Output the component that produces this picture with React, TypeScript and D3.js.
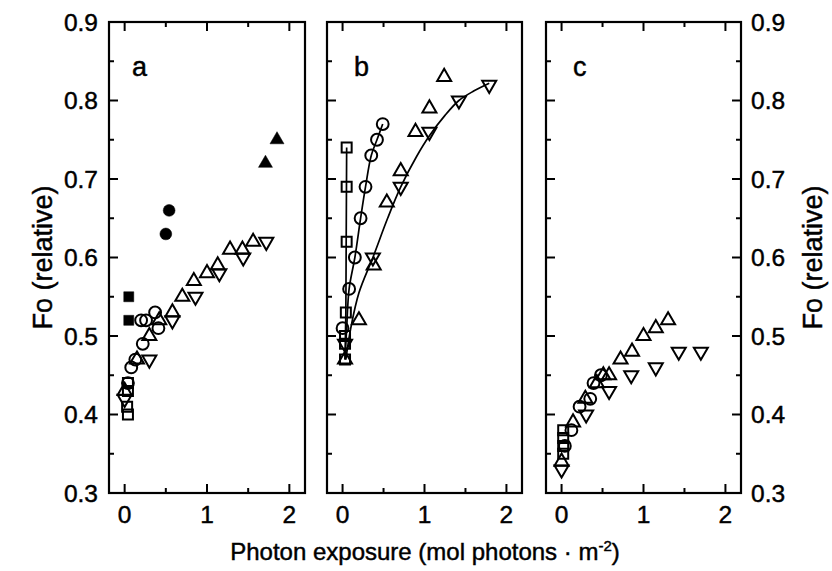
import React from "react";
import * as d3 from "d3";

type Pt = [number, number];

// ---------- data (x = photon exposure, y = Fo relative) ----------
// Panel a
const aSquareOpen: Pt[] = [[0.04, 0.44], [0.04, 0.43], [0.03, 0.41], [0.04, 0.40]];
const aSquareFilled: Pt[] = [[0.05, 0.55], [0.05, 0.52]];
const aCircleOpen: Pt[] = [[0.04, 0.44], [0.08, 0.46], [0.13, 0.47], [0.22, 0.49], [0.2, 0.52], [0.26, 0.52], [0.37, 0.53], [0.41, 0.51]];
const aCircleFilled: Pt[] = [[0.50, 0.63], [0.54, 0.66]];
const aTriUp: Pt[] = [[0.0, 0.43], [0.15, 0.47], [0.3, 0.50], [0.42, 0.52], [0.58, 0.53], [0.70, 0.55], [0.84, 0.57], [1.0, 0.58], [1.13, 0.59], [1.28, 0.61], [1.43, 0.61], [1.56, 0.62]];
const aTriDown: Pt[] = [[0.0, 0.42], [0.3, 0.47], [0.58, 0.52], [0.86, 0.55], [1.15, 0.58], [1.44, 0.60], [1.72, 0.62]];
const aTriUpFilled: Pt[] = [[1.71, 0.72], [1.85, 0.75]];

// Panel b
const bSquare: Pt[] = [[0.03, 0.47], [0.03, 0.49], [0.03, 0.50], [0.04, 0.53], [0.05, 0.62], [0.05, 0.69], [0.05, 0.74]];
const bCircle: Pt[] = [[0.0, 0.51], [0.08, 0.56], [0.15, 0.60], [0.22, 0.65], [0.28, 0.69], [0.35, 0.73], [0.42, 0.75], [0.49, 0.77]];
const bTriUp: Pt[] = [[0.03, 0.47], [0.2, 0.52], [0.38, 0.59], [0.54, 0.67], [0.71, 0.71], [0.89, 0.76], [1.06, 0.79], [1.24, 0.83]];
const bTriDown: Pt[] = [[0.03, 0.49], [0.37, 0.60], [0.71, 0.69], [1.06, 0.76], [1.42, 0.80], [1.79, 0.82]];
// fitted curves in panel b
const bSquareFit: Pt[] = [[0.03, 0.47], [0.04, 0.53], [0.05, 0.74]];
const bCircleFit: Pt[] = [[0.03, 0.47], [0.05, 0.51], [0.08, 0.56], [0.15, 0.60], [0.22, 0.65], [0.28, 0.69], [0.35, 0.73], [0.42, 0.75], [0.49, 0.77]];
const bTriFit: Pt[] = [[0.04, 0.47], [0.1, 0.51], [0.2, 0.555], [0.37, 0.60], [0.55, 0.65], [0.71, 0.69], [0.9, 0.728], [1.06, 0.755], [1.25, 0.781], [1.42, 0.80], [1.6, 0.812], [1.79, 0.822]];

// Panel c
const cSquare: Pt[] = [[0.02, 0.38], [0.02, 0.37], [0.02, 0.36], [0.02, 0.35]];
const cCircle: Pt[] = [[0.04, 0.36], [0.12, 0.38], [0.22, 0.41], [0.35, 0.42], [0.39, 0.44], [0.48, 0.45]];
const cTriUp: Pt[] = [[0.0, 0.34], [0.14, 0.39], [0.29, 0.42], [0.43, 0.44], [0.51, 0.45], [0.58, 0.45], [0.72, 0.47], [0.86, 0.48], [1.0, 0.50], [1.15, 0.51], [1.3, 0.52]];
const cTriDown: Pt[] = [[0.0, 0.33], [0.3, 0.40], [0.58, 0.43], [0.85, 0.45], [1.15, 0.46], [1.43, 0.48], [1.7, 0.48]];

const xMajor = [0, 1, 2];
const xMinor = [0.5, 1.5];
const yMajor = [0.3, 0.4, 0.5, 0.6, 0.7, 0.8, 0.9];
const yMinor = [0.35, 0.45, 0.55, 0.65, 0.75, 0.85];
const panelLetters = ["a", "b", "c"];

// ---------- layout ----------
const W = 832, H = 571;
const TOP = 22, BOTTOM = 493;
const PANEL_X: [number, number][] = [[109, 305], [327, 522], [546, 741]];
const X_DOMAIN: [number, number] = [-0.19, 2.19];
const Y_DOMAIN: [number, number] = [0.3, 0.9];
const FONT = "'Liberation Sans', Arial, Helvetica, sans-serif";
const MAJ = 9, MIN = 5;
const TXT = { fontFamily: FONT, fill: "#000", stroke: "#000", strokeWidth: 0.45 } as const;

const y = d3.scaleLinear().domain(Y_DOMAIN).range([BOTTOM, TOP]);

type Kind = "sq" | "sqF" | "ci" | "ciF" | "up" | "upF" | "dn";
const sym = (k: Kind) => {
  if (k === "sq" || k === "sqF") return d3.symbol().type(d3.symbolSquare).size(100)();
  if (k === "ci" || k === "ciF") return d3.symbol().type(d3.symbolCircle).size(110)();
  return d3.symbol().type(d3.symbolTriangle).size(85)();
};

function Markers({ data, kind, x }: { data: Pt[]; kind: Kind; x: d3.ScaleLinear<number, number> }) {
  const filled = kind.endsWith("F");
  const d = sym(kind) || "";
  return (
    <g>
      {data.map((p, i) => (
        <path
          key={i}
          d={d}
          transform={`translate(${x(p[0])},${y(p[1])})${kind === "dn" ? " rotate(180)" : ""}`}
          fill={filled ? "#000" : "none"}
          stroke="#000"
          strokeWidth={filled ? 0.5 : 2}
        />
      ))}
    </g>
  );
}

function Panel({ idx }: { idx: number }) {
  const [x0, x1] = PANEL_X[idx];
  const x = d3.scaleLinear().domain(X_DOMAIN).range([x0, x1]);
  const ticksRight = idx === 2;
  const line = d3.line<Pt>().x((p) => x(p[0])).y((p) => y(p[1]));
  const smooth = d3.line<Pt>().x((p) => x(p[0])).y((p) => y(p[1])).curve(d3.curveCatmullRom.alpha(0.5));
  const tickEls: React.ReactElement[] = [];
  const sw = 2;
  xMajor.forEach((v, i) => {
    tickEls.push(<line key={"xb" + i} x1={x(v)} x2={x(v)} y1={BOTTOM} y2={BOTTOM - MAJ} stroke="#000" strokeWidth={sw} />);
    tickEls.push(<line key={"xt" + i} x1={x(v)} x2={x(v)} y1={TOP} y2={TOP + MAJ} stroke="#000" strokeWidth={sw} />);
  });
  xMinor.forEach((v, i) => {
    tickEls.push(<line key={"xbm" + i} x1={x(v)} x2={x(v)} y1={BOTTOM} y2={BOTTOM - MIN} stroke="#000" strokeWidth={sw} />);
    tickEls.push(<line key={"xtm" + i} x1={x(v)} x2={x(v)} y1={TOP} y2={TOP + MIN} stroke="#000" strokeWidth={sw} />);
  });
  yMajor.forEach((v, i) => tickEls.push(<line key={"yl" + i} x1={x0} x2={x0 + MAJ} y1={y(v)} y2={y(v)} stroke="#000" strokeWidth={sw} />));
  yMinor.forEach((v, i) => tickEls.push(<line key={"ylm" + i} x1={x0} x2={x0 + MIN} y1={y(v)} y2={y(v)} stroke="#000" strokeWidth={sw} />));
  if (ticksRight) {
    yMajor.forEach((v, i) => tickEls.push(<line key={"yr" + i} x1={x1} x2={x1 - MAJ} y1={y(v)} y2={y(v)} stroke="#000" strokeWidth={sw} />));
    yMinor.forEach((v, i) => tickEls.push(<line key={"yrm" + i} x1={x1} x2={x1 - MIN} y1={y(v)} y2={y(v)} stroke="#000" strokeWidth={sw} />));
  }
  return (
    <g>
      <rect x={x0} y={TOP} width={x1 - x0} height={BOTTOM - TOP} fill="none" stroke="#000" strokeWidth={2.2} />
      {tickEls}
      {xMajor.map((v) => (
        <text key={v} x={x(v)} y={523} textAnchor="middle" fontSize={24.5} {...TXT}>{v}</text>
      ))}
      <text x={x0 + (idx === 0 ? 23 : 27)} y={76} fontSize={27} {...TXT}>{panelLetters[idx]}</text>
      {idx === 0 && (
        <g>
          <Markers data={aSquareOpen} kind="sq" x={x} />
          <Markers data={aSquareFilled} kind="sqF" x={x} />
          <Markers data={aCircleOpen} kind="ci" x={x} />
          <Markers data={aCircleFilled} kind="ciF" x={x} />
          <Markers data={aTriUp} kind="up" x={x} />
          <Markers data={aTriDown} kind="dn" x={x} />
          <Markers data={aTriUpFilled} kind="upF" x={x} />
        </g>
      )}
      {idx === 1 && (
        <g>
          <path d={line(bSquareFit) || ""} fill="none" stroke="#000" strokeWidth={1.7} />
          <path d={smooth(bCircleFit) || ""} fill="none" stroke="#000" strokeWidth={1.7} />
          <path d={smooth(bTriFit) || ""} fill="none" stroke="#000" strokeWidth={1.7} />
          <Markers data={bSquare} kind="sq" x={x} />
          <Markers data={bCircle} kind="ci" x={x} />
          <Markers data={bTriUp} kind="up" x={x} />
          <Markers data={bTriDown} kind="dn" x={x} />
        </g>
      )}
      {idx === 2 && (
        <g>
          <Markers data={cSquare} kind="sq" x={x} />
          <Markers data={cCircle} kind="ci" x={x} />
          <Markers data={cTriUp} kind="up" x={x} />
          <Markers data={cTriDown} kind="dn" x={x} />
        </g>
      )}
    </g>
  );
}

export default function App() {
  const fmt = d3.format(".1f");
  return (
    <svg width={W} height={H} viewBox={`0 0 ${W} ${H}`} style={{ position: "absolute", left: 0, top: 0, display: "block", background: "#fff" }}>
      <rect width={W} height={H} fill="#fff" />
      {[0, 1, 2].map((i) => <Panel key={i} idx={i} />)}
      {yMajor.map((v) => (
        <text key={"l" + v} x={98} y={y(v)} dy="0.36em" textAnchor="end" fontSize={24.5} {...TXT}>{fmt(v)}</text>
      ))}
      {yMajor.map((v) => (
        <text key={"r" + v} x={751} y={y(v)} dy="0.36em" textAnchor="start" fontSize={24.5} {...TXT}>{fmt(v)}</text>
      ))}
      <text transform={`translate(42,${(TOP + BOTTOM) / 2}) rotate(-90)`} dy="0.36em" textAnchor="middle" fontSize={27} {...TXT}>Fo (relative)</text>
      <text transform={`translate(812,${(TOP + BOTTOM) / 2}) rotate(-90)`} dy="0.36em" textAnchor="middle" fontSize={27} {...TXT}>Fo (relative)</text>
      <text x={425} y={560} textAnchor="middle" fontSize={24} {...TXT}>
        Photon exposure (mol photons · m<tspan dy={-9} fontSize={15}>-2</tspan><tspan dy={9}>)</tspan>
      </text>
    </svg>
  );
}
